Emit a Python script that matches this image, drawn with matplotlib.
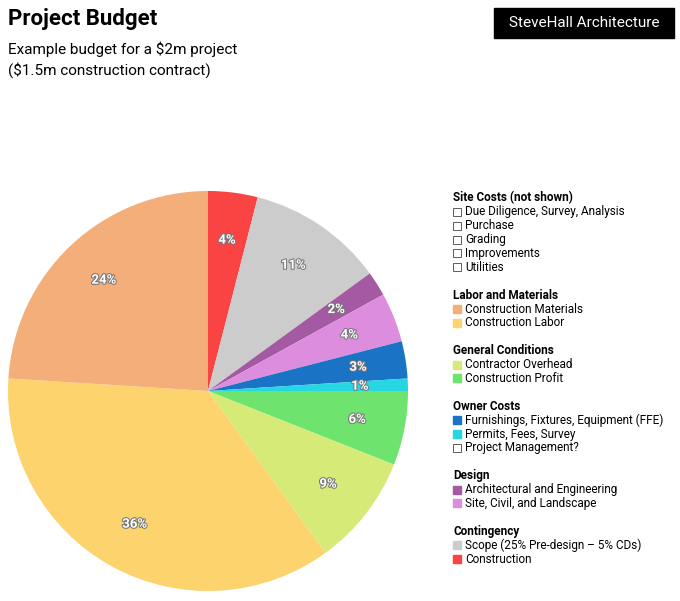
import numpy as np
import matplotlib
matplotlib.use('Agg')
import matplotlib as mpl
import matplotlib.pyplot as plt
import matplotlib.patheffects as pe
from matplotlib.patches import Rectangle


figfontsize=8.5

params = {'font.family': 'Roboto',
          'font.size': figfontsize}
mpl.rcParams.update(params)

# slices, clockwise from 12 o'clock
shares=[4, 11, 2, 4, 3, 1, 6, 9, 36, 24]
colors=['#fa4343', '#cccccc', '#a35aa3', '#dd8ddd', '#1a73c4', '#26d6e0',
        '#6ee46e', '#d6ea78', '#fdd36e', '#f3ae7a']

groups=['Site Costs (not shown)', 'Labor and Materials', 'General Conditions',
        'Owner Costs', 'Design', 'Contingency']
items=[['Due Diligence, Survey, Analysis', 'Purchase', 'Grading', 'Improvements', 'Utilities'],
       ['Construction Materials', 'Construction Labor'],
       ['Contractor Overhead', 'Construction Profit'],
       ['Furnishings, Fixtures, Equipment (FFE)', 'Permits, Fees, Survey', 'Project Management?'],
       ['Architectural and Engineering', 'Site, Civil, and Landscape'],
       ['Scope (25% Pre-design \u2013 5% CDs)', 'Construction']]
itemcolors=[[None]*5,
            ['#f3ae7a', '#fdd36e'],
            ['#d6ea78', '#6ee46e'],
            ['#1a73c4', '#26d6e0', None],
            ['#a35aa3', '#dd8ddd'],
            ['#cccccc', '#fa4343']]

fig=plt.figure(figsize=(6.8, 6.01), dpi=100)
ax=fig.add_axes([8/680, 1-591/601, 400/680, 400/601])

wedges, texts, autotexts = ax.pie(shares, colors=colors, startangle=90, counterclock=False,
                                  autopct='%d%%', pctdistance=0.76, radius=1,
                                  textprops={'color': 'white', 'fontweight': 'bold', 'fontsize': 9.5})
for t in autotexts:
    t.set_path_effects([pe.withStroke(linewidth=1.5, foreground='#777777')])
ax.set_xlim(-1, 1)
ax.set_ylim(-1, 1)
ax.set_aspect('equal')

fig.text(8/680, 1-19/601, 'Project Budget', fontsize=16, fontweight='bold', va='center')
fig.text(8/680, 1-49/601, 'Example budget for a $2m project', fontsize=11, va='center')
fig.text(8/680, 1-70/601, '($1.5m construction contract)', fontsize=11, va='center')

fig.patches.append(Rectangle((494/680, 1-38/601), 180/680, 30/601, transform=fig.transFigure,
                             color='black'))
fig.text(584/680, 1-23/601, 'SteveHall Architecture', color='white', fontsize=11,
         ha='center', va='center')

y=198
for g, its, cs in zip(groups, items, itemcolors):
    fig.text(453/680, 1-y/601, g, fontweight='bold', va='center')
    y+=14
    for it, c in zip(its, cs):
        if c is None:
            fig.patches.append(Rectangle((453/680, 1-(y+4)/601), 8/680, 8/601,
                                         transform=fig.transFigure, facecolor='white',
                                         edgecolor='#444444', linewidth=0.6))
        else:
            fig.patches.append(Rectangle((453/680, 1-(y+4)/601), 8/680, 8/601,
                                         transform=fig.transFigure, color=c))
        fig.text(465/680, 1-y/601, it, va='center')
        y+=13.8
    y+=14

plt.savefig('out.png', dpi=100)
plt.close()
